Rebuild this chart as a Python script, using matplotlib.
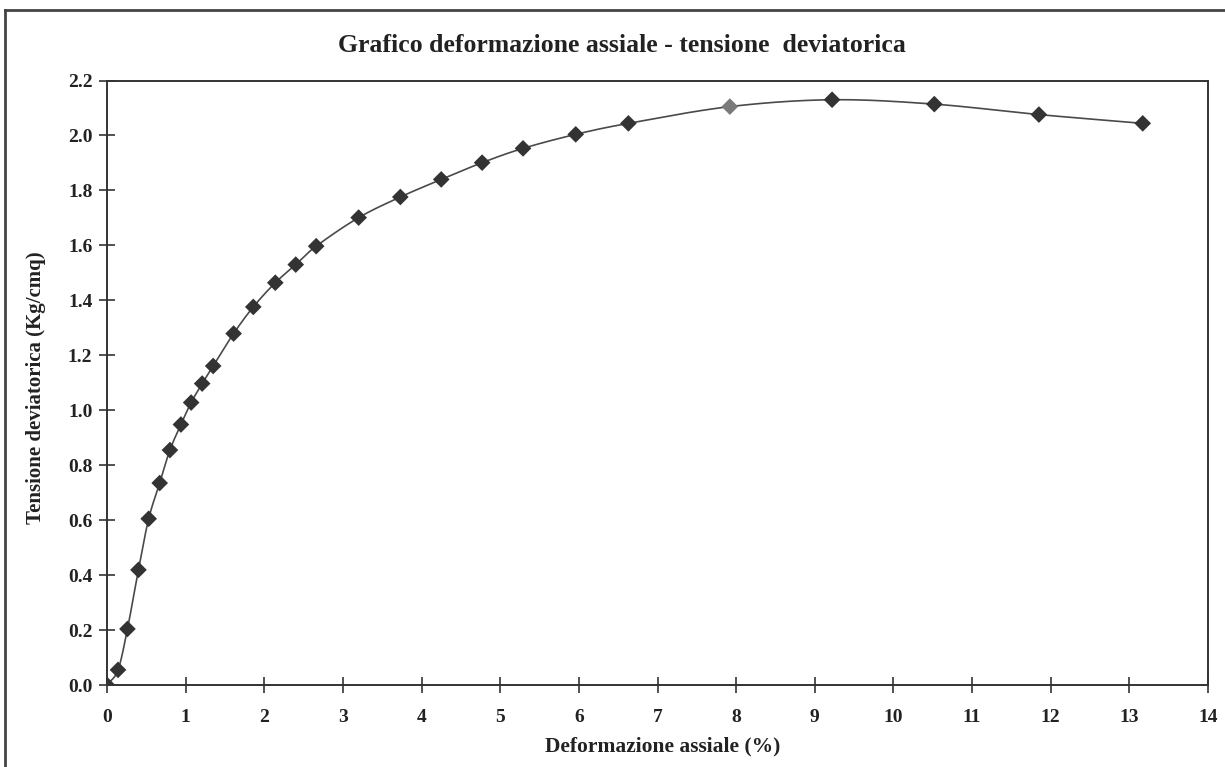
import numpy as np
import matplotlib
matplotlib.use("Agg")
import matplotlib.pyplot as plt
from matplotlib.lines import Line2D

# Data
deformazione = [0.00, 0.14, 0.26, 0.40, 0.53, 0.67, 0.80, 0.94, 1.07, 1.21, 1.35,
                1.61, 1.86, 2.14, 2.40, 2.66, 3.20, 3.73, 4.25, 4.77, 5.29, 5.96,
                6.63, 7.92, 9.22, 10.52, 11.85, 13.17]
tensione = [0.000, 0.055, 0.204, 0.419, 0.605, 0.735, 0.855, 0.948, 1.028, 1.097, 1.161,
            1.279, 1.376, 1.464, 1.530, 1.597, 1.701, 1.776, 1.840, 1.901, 1.953, 2.004,
            2.044, 2.105, 2.130, 2.114, 2.076, 2.044]
x_ticks = list(range(0, 15))
y_ticks = [0.0, 0.2, 0.4, 0.6, 0.8, 1.0, 1.2, 1.4, 1.6, 1.8, 2.0, 2.2]

title = "Grafico deformazione assiale - tensione  deviatorica"
xlabel = "Deformazione assiale (%)"
ylabel = "Tensione deviatorica (Kg/cmq)"


def smooth(x, y, n=20):
    """Bezier smoothing through the points (like Excel smoothed lines)."""
    x = np.asarray(x, float)
    y = np.asarray(y, float)
    px = np.concatenate([[2 * x[0] - x[1]], x, [2 * x[-1] - x[-2]]])
    py = np.concatenate([[2 * y[0] - y[1]], y, [2 * y[-1] - y[-2]]])
    xs, ys = [], []
    t = np.linspace(0, 1, n, endpoint=False)
    for i in range(1, len(px) - 2):
        p0, p1, p2, p3 = (np.array([px[j], py[j]]) for j in (i - 1, i, i + 1, i + 2))
        c1 = p1 + (p2 - p0) / 6.0
        c2 = p2 - (p3 - p1) / 6.0
        b = ((1 - t) ** 3)[:, None] * p1 + (3 * (1 - t) ** 2 * t)[:, None] * c1 \
            + (3 * (1 - t) * t ** 2)[:, None] * c2 + (t ** 3)[:, None] * p2
        xs.extend(b[:, 0]); ys.extend(b[:, 1])
    xs.append(x[-1]); ys.append(y[-1])
    return np.array(xs), np.array(ys)


plt.rcParams['font.family'] = ['Liberation Serif', 'DejaVu Serif']
plt.rcParams['font.weight'] = 'bold'

fig = plt.figure(figsize=(12.25, 7.67), dpi=100)
ax = fig.add_axes([107 / 1225, 1 - 685 / 767, (1208 - 107) / 1225, (685 - 80.5) / 767])

sx, sy = smooth(deformazione, tensione)
ax.plot(sx, sy, color='#4a4a4a', lw=1.2, zorder=2)
colors = ['#333333'] * len(deformazione)
colors[23] = '#7a7a7a'
ax.scatter(deformazione, tensione, marker='D', s=72, c=colors, edgecolors='none', zorder=3)

ax.set_xlim(0, 14)
ax.set_ylim(0, 2.2)
ax.set_xticks(x_ticks)
ax.set_yticks(y_ticks)
ax.set_xticklabels([str(v) for v in x_ticks], fontsize=14, fontweight='bold')
ax.set_yticklabels([f"{v:.1f}" for v in y_ticks], fontsize=14, fontweight='bold')
ax.tick_params(axis='both', direction='inout', length=11, width=1.2, color='#333333',
               labelcolor='#222222')
ax.tick_params(axis='x', pad=12)
ax.tick_params(axis='y', pad=5)
for s in ax.spines.values():
    s.set_color('#333333')
    s.set_linewidth(1.4)

fig.text(0.5 * (330 + 913) / 1225, 1 - 46 / 767, title, ha='center', va='center',
         fontsize=18.5, fontweight='bold', color='#222222')
fig.text((543 + 782) / 2 / 1225, 1 - 746 / 767, xlabel, ha='center', va='center',
         fontsize=15.5, fontweight='bold', color='#222222')
fig.text(36 / 1225, 1 - 388 / 767, ylabel, ha='center', va='center', rotation=90,
         fontsize=15, fontweight='bold', color='#222222')

# outer frame of the chart (left and top edges visible)
fig.add_artist(Line2D([5 / 1225, 5 / 1225], [0, 1 - 10 / 767], transform=fig.transFigure,
                      color='#444444', lw=2))
fig.add_artist(Line2D([5 / 1225, 1], [1 - 10 / 767, 1 - 10 / 767], transform=fig.transFigure,
                      color='#444444', lw=2))

fig.savefig("out.png", dpi=100, facecolor='white')
